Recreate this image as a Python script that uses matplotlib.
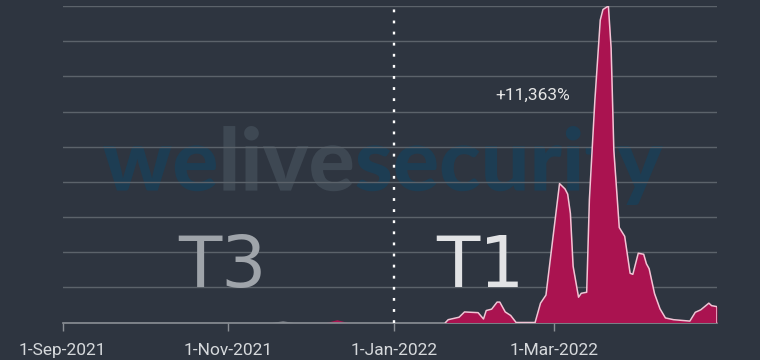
import matplotlib
matplotlib.use("Agg")
import matplotlib.pyplot as plt
import pandas as pd
from matplotlib.font_manager import FontProperties
from matplotlib.patches import PathPatch
from matplotlib.textpath import TextPath
from matplotlib.transforms import Affine2D

# T1 series, values in grid units
t1_dates = ["2022-01-20", "2022-01-21", "2022-01-25", "2022-01-27", "2022-02-01",
            "2022-02-03", "2022-02-04", "2022-02-06", "2022-02-08", "2022-02-09",
            "2022-02-11", "2022-02-13", "2022-02-15", "2022-02-22", "2022-02-24",
            "2022-02-26", "2022-02-28", "2022-03-03", "2022-03-05", "2022-03-06",
            "2022-03-07", "2022-03-08", "2022-03-10", "2022-03-11", "2022-03-13",
            "2022-03-14", "2022-03-16", "2022-03-18", "2022-03-19", "2022-03-21",
            "2022-03-22", "2022-03-23", "2022-03-25", "2022-03-27", "2022-03-29",
            "2022-03-30", "2022-04-01", "2022-04-03", "2022-04-04", "2022-04-05",
            "2022-04-07", "2022-04-09", "2022-04-11", "2022-04-14", "2022-04-20",
            "2022-04-22", "2022-04-24", "2022-04-27", "2022-04-28", "2022-04-30",
            "2022-04-30"]
t1_values = [0.0, 0.08, 0.15, 0.3, 0.28,
             0.1, 0.34, 0.38, 0.58, 0.58,
             0.3, 0.2, 0.0, 0.0, 0.55,
             0.78, 2.05, 3.95, 3.8, 3.65,
             3.1, 1.6, 0.72, 0.83, 0.86,
             3.5, 6.3, 8.6, 8.9, 9.0,
             7.8, 4.9, 2.7, 2.45, 1.4,
             1.37, 1.97, 1.94, 1.67, 1.53,
             0.82, 0.39, 0.13, 0.08, 0.04,
             0.29, 0.36, 0.55, 0.48, 0.45,
             0.0]

# T3 series: two tiny bumps
t3a_dates = ["2021-11-17", "2021-11-21", "2021-11-25"]
t3a_values = [0.0, 0.05, 0.0]
t3b_dates = ["2021-12-07", "2021-12-11", "2021-12-15"]
t3b_values = [0.0, 0.08, 0.0]

tick_dates = ["2021-09-01", "2021-11-01", "2022-01-01", "2022-03-01"]
tick_labels = ["1-Sep-2021", "1-Nov-2021", "1-Jan-2022", "1-Mar-2022"]
split_date = "2022-01-01"
peak_label = "+11,363%"

BG = "#2e3540"
FILL = "#aa1350"
EDGE = "#f2c4d5"
GRID = "#5c636b"
W, H = 760, 360

fig = plt.figure(figsize=(W / 100, H / 100), dpi=100, facecolor=BG)
ax = fig.add_axes([62.7 / W, 1 - 322.5 / H, (717 - 62.7) / W, (322.5 - 6) / H])
ax.set_facecolor(BG)
ax.set_zorder(1)
ax.patch.set_alpha(0)

# watermark, stretched into its box (pixels from top-left)
wm_parts = [("we", "#1d3d53"), ("live", "#3e4853"), ("security", "#1d3d53")]
wm_left, wm_right, wm_top, wm_bottom = 103, 663, 126, 205
prop = FontProperties(family="Lato", weight="black")
full = TextPath((0, 0), "".join(s for s, _ in wm_parts), size=1, prop=prop)
ext = full.get_extents()
sx = (wm_right - wm_left) / ext.width
sy = (wm_bottom - wm_top) / ext.height
base = (Affine2D().translate(-ext.x0, -ext.y0).scale(sx, sy)
        .translate(wm_left, H - wm_bottom).scale(1 / W, 1 / H) + fig.transFigure)
ref = TextPath((0, 0), "l", size=1, prop=prop).get_extents().x1
prefix = ""
for s, c in wm_parts:
    off = 0
    if prefix:
        off = TextPath((0, 0), prefix + "l", size=1, prop=prop).get_extents().x1 - ref
    p = TextPath((off, 0), s, size=1, prop=prop)
    fig.patches.append(PathPatch(p, color=c, lw=0, transform=base, zorder=0))
    prefix += s

ax.fill_between(pd.to_datetime(t3a_dates), t3a_values, color="#7d8189", lw=0)
ax.fill_between(pd.to_datetime(t3b_dates), t3b_values, color=FILL, lw=0)
t1x = pd.to_datetime(t1_dates)
ax.fill_between(t1x, t1_values, color=FILL, lw=0, zorder=3)
ax.plot(t1x, t1_values, color=EDGE, lw=1.1, zorder=4)

ax.axvline(pd.Timestamp(split_date), color="white", lw=1.7,
           linestyle=(0, (1.2, 3.5)), zorder=5)

ax.set_xlim(pd.Timestamp("2021-09-01"), pd.Timestamp("2022-04-30"))
ax.set_ylim(0, 9)
ax.set_yticks(range(0, 10))
ax.yaxis.grid(True, color=GRID, lw=1)
ax.tick_params(axis="y", left=False, labelleft=False)
ax.set_xticks(pd.to_datetime(tick_dates))
ax.set_xticklabels(tick_labels)
ax.tick_params(axis="x", colors="#8a8f95", length=6, width=1, pad=9,
               labelcolor="#d6d9dc", labelsize=12.5)
for lab in ax.get_xticklabels():
    lab.set_family("Roboto")
for side in ["top", "right", "left"]:
    ax.spines[side].set_visible(False)
ax.spines["bottom"].set_color("#8a8f95")
ax.spines["bottom"].set_linewidth(1.2)

# big period labels
ax.text(pd.Timestamp("2021-10-30"), 1.0, "T3", fontsize=51, color="#9fa4aa",
        family="DejaVu Sans", ha="center", va="baseline", zorder=6)
ax.text(pd.Timestamp("2022-02-02"), 1.0, "T1", fontsize=51, color="#e2e3e5",
        family="DejaVu Sans", ha="center", va="baseline", zorder=6)
ax.text(pd.Timestamp("2022-02-21"), 6.45, peak_label, fontsize=12.5, color="#e6e6e6",
        family="Roboto", ha="center", va="center", zorder=6)

fig.savefig("out.png", dpi=100, facecolor=BG)
